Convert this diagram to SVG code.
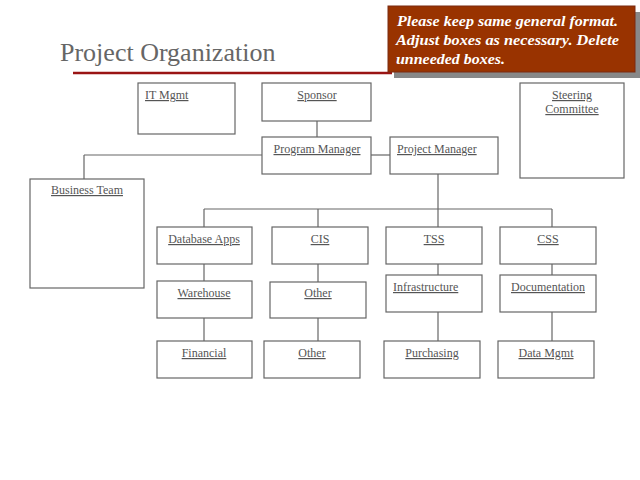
<svg xmlns="http://www.w3.org/2000/svg" width="640" height="480" viewBox="0 0 640 480">
<defs>
<style>
.box{fill:#fff;stroke:#666;stroke-width:1.2}
.lbl{font-family:"Liberation Serif","Times New Roman",serif;font-size:12px;fill:#555;text-decoration:underline}
.c{text-anchor:middle}
.conn line{stroke:#666;stroke-width:1.2}
.note{font-family:"Liberation Serif","Times New Roman",serif;font-size:15px;font-weight:bold;font-style:italic;fill:#fff}
</style>
</defs>
<rect width="640" height="480" fill="#fff"/>
<text x="60" y="61" font-family="Liberation Serif, Times New Roman, serif" font-size="26" fill="#666">Project Organization</text>
<line x1="73" y1="73" x2="392" y2="73" stroke="#9a1414" stroke-width="2.5"/>
<g id="note">
<rect x="394" y="12" width="247" height="66" fill="#888"/>
<rect x="388" y="6" width="247" height="66" fill="#993300" stroke="#7a2a10" stroke-width="1"/>
<text class="note" x="397" y="26" textLength="221" lengthAdjust="spacingAndGlyphs">Please keep same general format.</text>
<text class="note" x="396" y="45" textLength="223" lengthAdjust="spacingAndGlyphs">Adjust boxes as necessary.  Delete</text>
<text class="note" x="396" y="64" textLength="109" lengthAdjust="spacingAndGlyphs">unneeded boxes.</text>
</g>
<g class="conn" id="connectors">
<line x1="317" y1="121" x2="317" y2="137"/>
<line x1="371" y1="155" x2="390" y2="155"/>
<line x1="84" y1="155" x2="262" y2="155"/>
<line x1="84" y1="155" x2="84" y2="179"/>
<line x1="438" y1="174" x2="438" y2="209"/>
<line x1="204" y1="209" x2="552" y2="209"/>
<line x1="204" y1="209" x2="204" y2="227"/>
<line x1="318" y1="209" x2="318" y2="227"/>
<line x1="438" y1="209" x2="438" y2="227"/>
<line x1="552" y1="209" x2="552" y2="227"/>
<line x1="204" y1="264" x2="204" y2="282"/>
<line x1="318" y1="264" x2="318" y2="282"/>
<line x1="438" y1="264" x2="438" y2="275"/>
<line x1="552" y1="264" x2="552" y2="275"/>
<line x1="204" y1="318" x2="204" y2="341"/>
<line x1="318" y1="318" x2="318" y2="341"/>
<line x1="438" y1="312" x2="438" y2="341"/>
<line x1="552" y1="312" x2="552" y2="341"/>
</g>
<g id="it-mgmt"><rect class="box" x="138" y="83" width="97" height="51"/><text class="lbl" x="145" y="99">IT Mgmt</text></g>
<g id="sponsor"><rect class="box" x="262" y="83" width="109" height="38"/><text class="lbl c" x="317" y="99">Sponsor</text></g>
<g id="steering"><rect class="box" x="520" y="83" width="104" height="95"/><text class="lbl c" x="572" y="99">Steering</text><text class="lbl c" x="572" y="113">Committee</text></g>
<g id="program-manager"><rect class="box" x="262" y="137" width="109" height="37"/><text class="lbl c" x="317" y="153">Program Manager</text></g>
<g id="project-manager"><rect class="box" x="390" y="137" width="108" height="37"/><text class="lbl" x="397" y="153">Project Manager</text></g>
<g id="business-team"><rect class="box" x="30" y="179" width="114" height="109"/><text class="lbl c" x="87" y="194">Business Team</text></g>
<g id="database-apps"><rect class="box" x="157" y="227" width="95" height="37"/><text class="lbl c" x="204" y="243">Database Apps</text></g>
<g id="cis"><rect class="box" x="272" y="227" width="96" height="37"/><text class="lbl c" x="320" y="243">CIS</text></g>
<g id="tss"><rect class="box" x="386" y="227" width="96" height="37"/><text class="lbl c" x="434" y="243">TSS</text></g>
<g id="css"><rect class="box" x="500" y="227" width="96" height="37"/><text class="lbl c" x="548" y="243">CSS</text></g>
<g id="warehouse"><rect class="box" x="157" y="281" width="95" height="37"/><text class="lbl c" x="204" y="297">Warehouse</text></g>
<g id="other-1"><rect class="box" x="270" y="282" width="96" height="36"/><text class="lbl c" x="318" y="297">Other</text></g>
<g id="infrastructure"><rect class="box" x="386" y="275" width="96" height="37"/><text class="lbl" x="393" y="291">Infrastructure</text></g>
<g id="documentation"><rect class="box" x="500" y="275" width="96" height="37"/><text class="lbl c" x="548" y="291">Documentation</text></g>
<g id="financial"><rect class="box" x="157" y="341" width="95" height="37"/><text class="lbl c" x="204" y="357">Financial</text></g>
<g id="other-2"><rect class="box" x="264" y="341" width="96" height="37"/><text class="lbl c" x="312" y="357">Other</text></g>
<g id="purchasing"><rect class="box" x="384" y="341" width="96" height="37"/><text class="lbl c" x="432" y="357">Purchasing</text></g>
<g id="data-mgmt"><rect class="box" x="498" y="341" width="96" height="37"/><text class="lbl c" x="546" y="357">Data Mgmt</text></g>
</svg>
